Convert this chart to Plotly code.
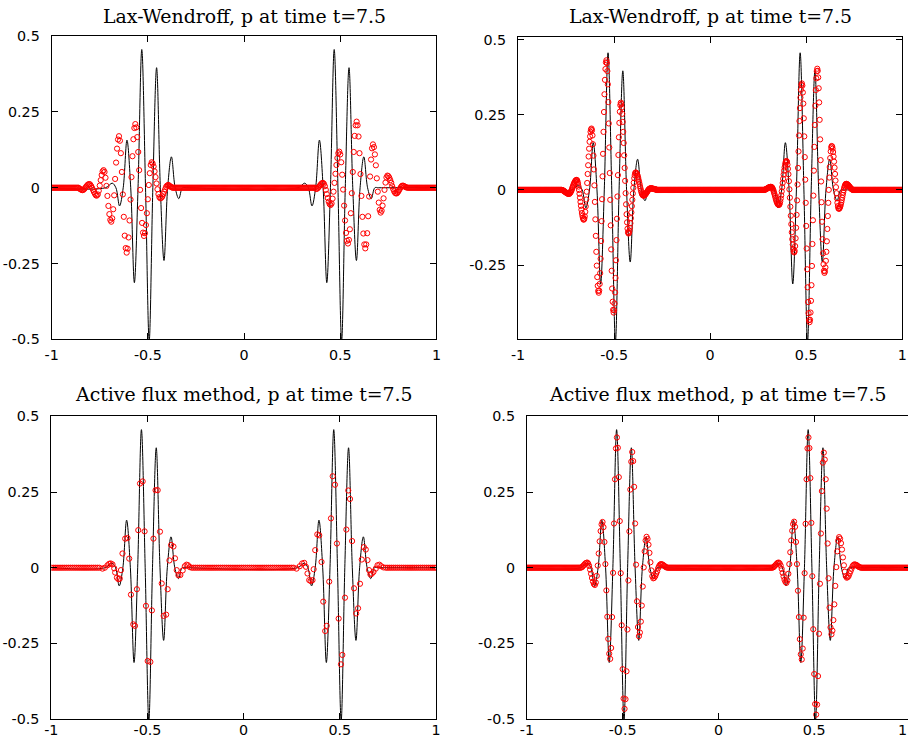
import numpy as np
import plotly.graph_objects as go

# ---------------- data ----------------
# exact solution (black line): extrema and zero crossings of the two wave packets
exact_x = [-1.0, -0.72, -0.685, -0.666, -0.647, -0.628, -0.6085, -0.589, -0.570, -0.551, -0.5315,
           -0.512, -0.493, -0.474, -0.4545, -0.435, -0.416, -0.397, -0.3775, -0.358, -0.339, -0.320, -0.300,
           0.280, 0.315, 0.334, 0.353, 0.372, 0.3915, 0.411, 0.430, 0.449, 0.4685, 0.488, 0.507, 0.526,
           0.5455, 0.565, 0.584, 0.603, 0.6225, 0.642, 0.661, 0.680, 0.700, 1.0]
exact_p = [0, 0, 0.015, 0, -0.060, 0, 0.157, 0, -0.313, 0, 0.456, 0, -0.505, 0, 0.396, 0, -0.240, 0,
           0.102, 0, -0.036, 0, 0,
           0, 0.015, 0, -0.060, 0, 0.157, 0, -0.313, 0, 0.456, 0, -0.505, 0, 0.396, 0, -0.240, 0,
           0.102, 0, -0.036, 0, 0, 0]

# Lax-Wendroff, coarse grid (top left), spacing 0.005
lw1_h = 0.005
lw1_left_start = -0.855
lw1_left = [-0.003, -0.005, -0.007, -0.008,
            -0.007, -0.004, 0.000, 0.004, 0.008, 0.011, 0.012,
            0.011, 0.006, 0.000, -0.007, -0.014, -0.020, -0.025, -0.026,
            -0.022, -0.010, 0.007, 0.025, 0.042, 0.054, 0.058,
            0.052, 0.033, 0.006, -0.027, -0.060, -0.087, -0.106, -0.112,
            -0.101, -0.071, -0.025, 0.029, 0.083, 0.129, 0.159, 0.170,
            0.155, 0.114, 0.052, -0.022, -0.096, -0.158, -0.199, -0.214,
            -0.201, -0.164, -0.108, -0.039, 0.035, 0.104, 0.160, 0.197, 0.210,
            0.199, 0.167, 0.118, 0.058, -0.007, -0.067, -0.116, -0.148, -0.159,
            -0.150, -0.123, -0.084, -0.038, 0.009, 0.048, 0.075, 0.084,
            0.080, 0.070, 0.054, 0.035, 0.014, -0.005, -0.021, -0.031, -0.035,
            -0.033, -0.029, -0.021, -0.013, -0.005, 0.003, 0.007, 0.009,
            0.008, 0.005, 0.003, 0.001]
lw1_right_start = 0.375
lw1_right = [-0.004,
             -0.003, 0.000, 0.004, 0.008, 0.012, 0.015, 0.016,
             0.013, 0.005, -0.007, -0.021, -0.034, -0.046, -0.054, -0.057,
             -0.052, -0.036, -0.013, 0.016, 0.046, 0.075, 0.098, 0.114, 0.119,
             0.110, 0.084, 0.043, -0.006, -0.059, -0.108, -0.149, -0.175, -0.184,
             -0.172, -0.137, -0.084, -0.018, 0.052, 0.118, 0.171, 0.206, 0.218,
             0.206, 0.169, 0.114, 0.045, -0.027, -0.096, -0.151, -0.187, -0.200,
             -0.187, -0.150, -0.094, -0.029, 0.037, 0.093, 0.130, 0.143,
             0.134, 0.110, 0.074, 0.031, -0.013, -0.049, -0.073, -0.082,
             -0.076, -0.059, -0.035, -0.007, 0.017, 0.034, 0.040,
             0.038, 0.033, 0.025, 0.016, 0.005, -0.004, -0.012, -0.017, -0.019,
             -0.018, -0.014, -0.009, -0.003, 0.002, 0.006, 0.007,
             0.006, 0.004, 0.002, 0.001]

# Lax-Wendroff, fine grid (top right), spacing 0.0025
lw2_h = 0.0025
lw2_left_start = -0.7725
lw2_left = [-0.000, -0.001, -0.001, -0.002, -0.003, -0.004, -0.005, -0.007, -0.008, -0.009, -0.010, -0.011, -0.012, -0.013, -0.013,
            -0.013,
            -0.013, -0.011, -0.009, -0.006, -0.003, 0.001, 0.006, 0.010, 0.015, 0.019, 0.023, 0.026, 0.029, 0.031, 0.033,
            0.033,
            0.032, 0.027, 0.020, 0.011, 0.000, -0.013, -0.026, -0.040, -0.053, -0.066, -0.077, -0.086, -0.093, -0.098,
            -0.099,
            -0.096, -0.088, -0.073, -0.055, -0.032, -0.006, 0.023, 0.053, 0.082, 0.111, 0.137, 0.160, 0.178, 0.193, 0.201,
            0.204,
            0.198, 0.181, 0.152, 0.114, 0.068, 0.015, -0.040, -0.098, -0.153, -0.206, -0.252, -0.290, -0.319, -0.336,
            -0.342,
            -0.335, -0.313, -0.277, -0.229, -0.170, -0.104, -0.031, 0.045, 0.120, 0.193, 0.259, 0.318, 0.366, 0.402, 0.424,
            0.431,
            0.422, 0.395, 0.351, 0.292, 0.221, 0.141, 0.056, -0.033, -0.118, -0.198, -0.269, -0.328, -0.372, -0.399,
            -0.408,
            -0.400, -0.378, -0.341, -0.293, -0.234, -0.167, -0.096, -0.022, 0.049, 0.116, 0.175, 0.223, 0.260, 0.282,
            0.290,
            0.286, 0.274, 0.253, 0.226, 0.193, 0.156, 0.115, 0.073, 0.030, -0.011, -0.048, -0.081, -0.108, -0.129, -0.141,
            -0.145,
            -0.143, -0.136, -0.126, -0.111, -0.094, -0.075, -0.054, -0.033, -0.012, 0.007, 0.024, 0.039, 0.049, 0.056,
            0.058,
            0.057, 0.055, 0.052, 0.047, 0.041, 0.034, 0.027, 0.020, 0.012, 0.005, -0.002, -0.008, -0.013, -0.016, -0.018,
            -0.019,
            -0.019, -0.018, -0.017, -0.015, -0.013, -0.011, -0.008, -0.006, -0.003, -0.001, 0.001, 0.003, 0.004, 0.005,
            0.005,
            0.005, 0.005, 0.005, 0.004, 0.004, 0.003, 0.003, 0.003, 0.002, 0.002, 0.001, 0.001, 0.000, 0.000, 0.000,
            0.0]
lw2_right_start = 0.28
lw2_right = [0.000, 0.000, 0.001, 0.001, 0.002, 0.003, 0.004, 0.005, 0.006, 0.007, 0.008, 0.009, 0.009, 0.010, 0.010,
             0.010,
             0.009, 0.008, 0.005, 0.001, -0.003, -0.009, -0.014, -0.020, -0.026, -0.032, -0.037, -0.041, -0.045, -0.048, -0.049,
             -0.050,
             -0.049, -0.045, -0.038, -0.029, -0.018, -0.005, 0.009, 0.023, 0.037, 0.051, 0.064, 0.075, 0.084, 0.091, 0.095,
             0.096,
             0.093, 0.084, 0.070, 0.052, 0.029, 0.002, -0.026, -0.056, -0.086, -0.114, -0.141, -0.164, -0.182, -0.196, -0.205,
             -0.208,
             -0.203, -0.187, -0.161, -0.126, -0.083, -0.035, 0.018, 0.073, 0.128, 0.181, 0.229, 0.272, 0.307, 0.333, 0.349,
             0.354,
             0.347, 0.324, 0.287, 0.238, 0.178, 0.109, 0.034, -0.043, -0.120, -0.195, -0.264, -0.324, -0.373, -0.410, -0.433,
             -0.440,
             -0.432, -0.408, -0.369, -0.317, -0.253, -0.180, -0.101, -0.019, 0.064, 0.143, 0.216, 0.280, 0.332, 0.371, 0.395,
             0.403,
             0.396, 0.374, 0.338, 0.291, 0.233, 0.168, 0.099, 0.028, -0.041, -0.106, -0.164, -0.211, -0.247, -0.269,
             -0.276,
             -0.271, -0.258, -0.236, -0.206, -0.171, -0.130, -0.087, -0.043, 0.000, 0.041, 0.076, 0.106, 0.128, 0.141,
             0.146,
             0.144, 0.137, 0.126, 0.111, 0.094, 0.074, 0.053, 0.031, 0.009, -0.011, -0.028, -0.043, -0.054, -0.061,
             -0.063,
             -0.062, -0.059, -0.055, -0.049, -0.042, -0.034, -0.026, -0.017, -0.009, -0.001, 0.006, 0.012, 0.016, 0.019,
             0.020,
             0.020, 0.019, 0.018, 0.017, 0.015, 0.013, 0.011, 0.009, 0.007, 0.005, 0.003, 0.002, 0.001, 0.000,
             0.0]

# Active flux, coarse grid (bottom left): circles read individually, spacing about 0.01
af1_h = 0.01
af1_left_x = [-0.734, -0.722, -0.708, -0.699, -0.691, -0.682, -0.673, -0.668, -0.659, -0.651, -0.644, -0.638,
              -0.630, -0.616, -0.604, -0.595, -0.586, -0.574, -0.565, -0.555, -0.548, -0.539, -0.525, -0.515,
              -0.508, -0.499, -0.485, -0.477, -0.469, -0.458, -0.447, -0.435, -0.426, -0.416, -0.403, -0.395,
              -0.386, -0.377, -0.365, -0.357, -0.348, -0.339, -0.329, -0.317, -0.306, -0.297, -0.289, -0.280]
af1_left_p = [-0.003, 0.0, 0.008, 0.013, 0.014, 0.011, -0.002, -0.016, -0.033, -0.038, -0.036, -0.008,
              0.047, 0.096, 0.098, 0.030, -0.089, -0.187, -0.192, -0.071, 0.124, 0.278, 0.285, 0.120,
              -0.126, -0.308, -0.311, -0.141, 0.096, 0.256, 0.256, 0.119, -0.052, -0.159, -0.155, -0.071,
              0.024, 0.075, 0.070, 0.031, -0.008, -0.025, -0.024, -0.009, 0.005, 0.010, 0.008, 0.002]
af1_right_x = [0.275, 0.292, 0.304, 0.315, 0.324, 0.332, 0.341, 0.348, 0.358, 0.364, 0.372, 0.383, 0.393,
               0.405, 0.414, 0.424, 0.432, 0.445, 0.454, 0.463, 0.475, 0.485, 0.494, 0.506, 0.513, 0.527,
               0.534, 0.544, 0.553, 0.564, 0.574, 0.585, 0.595, 0.605, 0.614, 0.625, 0.635, 0.644, 0.652,
               0.659, 0.666, 0.675, 0.687, 0.696, 0.706, 0.715, 0.727]
af1_right_p = [-0.003, 0.005, 0.014, 0.016, 0.003, -0.019, -0.041, -0.044, -0.041, -0.005, 0.058, 0.110, 0.107,
               0.019, -0.112, -0.209, -0.192, -0.046, 0.163, 0.302, 0.274, 0.080, -0.168, -0.319, -0.288, -0.099,
               0.126, 0.255, 0.227, 0.088, -0.068, -0.151, -0.134, -0.053, 0.027, 0.068, 0.060, 0.025, -0.008,
               -0.022, -0.020, -0.014, -0.003, 0.008, 0.010, 0.005, 0.001]

# Active flux, fine grid (bottom right), spacing 0.005
af2_h = 0.005
af2_left_start = -0.715
af2_left = [0.001, 0.003, 0.007, 0.010, 0.014, 0.016, 0.017,
            0.014, 0.006, -0.006, -0.020, -0.034, -0.046, -0.054, -0.057,
            -0.049, -0.027, 0.007, 0.047, 0.087, 0.121, 0.143, 0.151,
            0.134, 0.085, 0.012, -0.075, -0.162, -0.235, -0.284, -0.301,
            -0.265, -0.163, -0.017, 0.146, 0.292, 0.394, 0.430,
            0.396, 0.299, 0.154, -0.018, -0.190, -0.335, -0.432, -0.466,
            -0.434, -0.342, -0.204, -0.042, 0.120, 0.258, 0.350, 0.382,
            0.352, 0.267, 0.146, 0.010, -0.111, -0.196, -0.226,
            -0.214, -0.178, -0.125, -0.062, 0.001, 0.054, 0.090, 0.102,
            0.095, 0.076, 0.049, 0.018, -0.009, -0.028, -0.035,
            -0.033, -0.028, -0.020, -0.012, -0.002, 0.005, 0.010, 0.012,
            0.011, 0.010, 0.007, 0.005, 0.002, 0.001]
af2_right_start = 0.285
af2_right = [0.001, 0.003, 0.007, 0.010, 0.014, 0.016, 0.017,
             0.014, 0.007, -0.004, -0.017, -0.029, -0.040, -0.047, -0.050,
             -0.042, -0.020, 0.012, 0.051, 0.090, 0.122, 0.144, 0.152,
             0.135, 0.085, 0.012, -0.076, -0.163, -0.236, -0.286, -0.303,
             -0.267, -0.165, -0.018, 0.145, 0.292, 0.394, 0.430,
             0.395, 0.296, 0.148, -0.028, -0.203, -0.351, -0.450, -0.485,
             -0.452, -0.358, -0.218, -0.053, 0.113, 0.253, 0.347, 0.380,
             0.357, 0.292, 0.195, 0.080, -0.035, -0.132, -0.197, -0.220,
             -0.208, -0.173, -0.121, -0.060, 0.002, 0.054, 0.089, 0.101,
             0.096, 0.081, 0.060, 0.034, 0.008, -0.013, -0.028, -0.033,
             -0.031, -0.027, -0.019, -0.011, -0.003, 0.005, 0.009, 0.011,
             0.010, 0.009, 0.007, 0.004, 0.002, 0.001]

x_ticks = [-1, -0.5, 0, 0.5, 1]
x_tick_labels = ["-1", "-0.5", "0", "0.5", "1"]
y_ticks = [-0.5, -0.25, 0, 0.25, 0.5]
y_tick_labels = ["-0.5", "-0.25", "0", "0.25", "0.5"]
titles = ["Lax-Wendroff, p at time t=7.5", "Lax-Wendroff, p at time t=7.5",
          "Active flux method, p at time t=7.5", "Active flux method, p at time t=7.5"]


# ---------------- helpers ----------------
def grid_series(h, packets):
    """packets: list of (start, values) on a uniform grid of spacing h; zeros elsewhere."""
    xs, ys, covered = [], [], []
    for start, vals in packets:
        n = len(vals)
        xs += [start + h * i for i in range(n)]
        ys += list(vals)
        covered.append((start - h / 2, start + h * (n - 1) + h / 2))
    for g in np.round(np.arange(-1.0, 1.0 + h / 2, h), 6):
        if not any(a <= g <= b for a, b in covered):
            xs.append(float(g))
            ys.append(0.0)
    return xs, ys


def point_series(h, packets):
    """packets: list of (xlist, ylist) read individually; zero grid elsewhere."""
    xs, ys, covered = [], [], []
    for px, py in packets:
        xs += list(px)
        ys += list(py)
        covered.append((min(px) - h * 0.6, max(px) + h * 0.6))
    for g in np.round(np.arange(-1.0, 1.0 + h / 2, h), 6):
        if not any(a <= g <= b for a, b in covered):
            xs.append(float(g))
            ys.append(0.0)
    return xs, ys


series = [
    grid_series(lw1_h, [(lw1_left_start, lw1_left), (lw1_right_start, lw1_right)]),
    grid_series(lw2_h, [(lw2_left_start, lw2_left), (lw2_right_start, lw2_right)]),
    point_series(af1_h, [(af1_left_x, af1_left_p), (af1_right_x, af1_right_p)]),
    grid_series(af2_h, [(af2_left_start, af2_left), (af2_right_start, af2_right)]),
]

# Rendering maps figure pixel d to photo pixel (d + 8) * s (page margin + capture scale).
W, H = 916, 746
SX, SY, OFF = 908.0 / 924.0, 746.0 / 762.0, 8.0


def fx(v):
    return v / SX - OFF


def fy(v):
    return v / SY - OFF


# target plot-area rectangles in photo pixels: (left, right, top, bottom)
boxes_photo = [(52.3, 435.5, 36.0, 339.3), (516.7, 899.3, 37.3, 339.3),
               (52.0, 435.0, 416.3, 719.3), (525.5, 907.0, 416.3, 719.3)]
y_ranges = [[-0.5, 0.5], [-0.497, 0.507], [-0.5, 0.5], [-0.5, 0.5]]
title_y_photo = [15.6, 15.6, 394.0, 394.0]
x_label_standoff = [3, 3, -2, -2]

fig = go.Figure()
layout = dict(width=W, height=H, margin=dict(l=0, r=0, t=0, b=0), autosize=False,
              paper_bgcolor="white", plot_bgcolor="white", showlegend=False)
annotations = []
tick_font = dict(family="DejaVu Sans", size=14.3, color="black")
for k in range(4):
    sx = "" if k == 0 else str(k + 1)
    xa, ya = "x" + sx, "y" + sx
    L, R, T, B = boxes_photo[k]
    l, r, t, b = fx(L), fx(R), fy(T), fy(B)
    fig.add_trace(go.Scatter(x=exact_x, y=exact_p, mode="lines", xaxis=xa, yaxis=ya,
                             line=dict(color="black", width=1, shape="spline", smoothing=1.0),
                             hoverinfo="skip"))
    rx, ry = series[k]
    fig.add_trace(go.Scatter(x=rx, y=ry, mode="markers", xaxis=xa, yaxis=ya,
                             marker=dict(symbol="circle-open", size=5.2, color="red",
                                         line=dict(color="red", width=1)),
                             hoverinfo="skip"))
    yt = y_ticks if k != 1 else y_ticks[1:]
    ytl = y_tick_labels if k != 1 else y_tick_labels[1:]
    # last x label of the bottom-right panel sits at the window edge: drawn as a note instead
    xtl = list(x_tick_labels) if k != 3 else x_tick_labels[:-1] + [""]
    common = dict(showline=True, linecolor="black", linewidth=1, mirror="ticks",
                  ticks="inside", ticklen=6, tickwidth=1, tickcolor="black",
                  showgrid=False, zeroline=False, tickfont=tick_font)
    layout["xaxis" + sx] = dict(domain=[l / W, min(r / W, 1.0)], range=[-1, 1], anchor=ya,
                                tickvals=x_ticks, ticktext=xtl,
                                ticklabelstandoff=x_label_standoff[k], **common)
    layout["yaxis" + sx] = dict(domain=[max(1 - b / H, 0.0), 1 - t / H], range=y_ranges[k], anchor=xa,
                                tickvals=yt, ticktext=ytl, ticklabelstandoff=8, **common)
    annotations.append(dict(text=titles[k], x=(l + r) / 2 / W, y=1 - max(fy(title_y_photo[k]), 8.0) / H,
                            xref="paper", yref="paper", xanchor="center", yanchor="middle",
                            showarrow=False,
                            font=dict(family="DejaVu Serif", size=18.9, color="black")))

annotations.append(dict(text=x_tick_labels[-1], x=fx(904.0) / W, y=1 - fy(730.5) / H,
                        xref="paper", yref="paper", xanchor="right", yanchor="middle",
                        showarrow=False, borderpad=0, borderwidth=0, font=tick_font))
layout["annotations"] = annotations
fig.update_layout(**layout)
fig.write_html("out.html")
